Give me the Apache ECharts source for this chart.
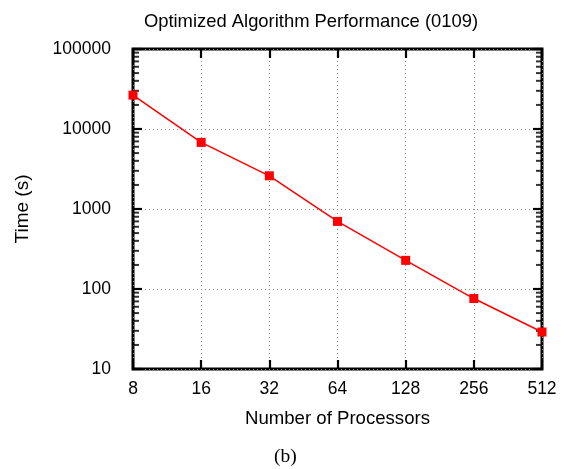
<!DOCTYPE html>
<html>
<head>
<meta charset="utf-8">
<script src="https://cdn.jsdelivr.net/npm/echarts@6/dist/echarts.min.js"></script>
<style>
  html, body { margin: 0; padding: 0; background: #fff; }
  #chart { width: 570px; height: 469px; }
</style>
</head>
<body>
<div id="chart"></div>
<script>
const processors = [8, 16, 32, 64, 128, 256, 512];
const times = [26500, 6800, 2600, 700, 228, 76, 29];
const decades = [10, 100, 1000, 10000];
const minorSteps = [2, 3, 4, 5, 6, 7, 8, 9];

// log minor tick values, drawn as small rect symbols on the left and right frame
const minorVals = [];
decades.forEach((d) => minorSteps.forEach((m) => minorVals.push(d * m)));

const font = '"Liberation Sans", Arial, sans-serif';
const chart = echarts.init(document.getElementById('chart'));

const splitLine = { show: true, lineStyle: { color: '#8a8a8a', type: [1, 3], width: 1 } };
const tick = { show: true, inside: true, length: 9, lineStyle: { color: '#000', width: 2.2 } };

chart.setOption({
  animation: false,
  title: {
    text: 'Optimized Algorithm Performance (0109)',
    left: 306, top: 8, textAlign: 'center',
    textStyle: { fontFamily: font, fontSize: 18.4, fontWeight: 'normal', color: '#000' },
  },
  graphic: [{
    type: 'text', left: 274, top: 447,
    style: { text: '(b)', fontFamily: '"Liberation Serif", "Times New Roman", serif', fontSize: 19.5, fill: '#000' },
  }],
  grid: { left: 133, right: 28, top: 49, bottom: 100, show: true, borderColor: '#000', borderWidth: 3, backgroundColor: '#fff' },
  xAxis: [
    {
      type: 'log', logBase: 2, min: 8, max: 512, interval: 1,
      name: 'Number of Processors', nameLocation: 'middle', nameGap: 40,
      nameTextStyle: { fontFamily: font, fontSize: 18.6, color: '#000' },
      axisLine: { show: false }, axisTick: tick, splitLine,
      axisLabel: { fontFamily: font, fontSize: 17.5, color: '#000', margin: 11, formatter: (v) => String(v) },
    },
    {
      type: 'log', logBase: 2, min: 8, max: 512, interval: 1, position: 'top',
      axisLine: { show: false }, axisTick: tick, splitLine: { show: false }, axisLabel: { show: false },
    },
  ],
  yAxis: [
    {
      type: 'log', logBase: 10, min: 10, max: 100000, interval: 1,
      name: 'Time (s)', nameLocation: 'middle', nameGap: 101, nameRotate: 90,
      nameTextStyle: { fontFamily: font, fontSize: 19, color: '#000' },
      axisLine: { show: false }, axisTick: tick, splitLine,
      axisLabel: { fontFamily: font, fontSize: 17.5, color: '#000', margin: 22, formatter: (v) => String(v) },
    },
    {
      type: 'log', logBase: 10, min: 10, max: 100000, interval: 1, position: 'right',
      axisLine: { show: false }, axisTick: tick, splitLine: { show: false }, axisLabel: { show: false },
    },
  ],
  series: [
    {
      type: 'scatter', silent: true, symbol: 'rect', symbolSize: [6, 2], symbolOffset: [3, 0],
      itemStyle: { color: '#000' }, z: 3,
      data: minorVals.map((v) => [8, v]),
    },
    {
      type: 'scatter', silent: true, symbol: 'rect', symbolSize: [6, 2], symbolOffset: [-3, 0],
      itemStyle: { color: '#000' }, z: 3,
      data: minorVals.map((v) => [512, v]),
    },
    {
      type: 'line', clip: false, z: 5,
      data: processors.map((p, i) => [p, times[i]]),
      symbol: 'rect', symbolSize: 9, showSymbol: true,
      lineStyle: { color: '#ff0000', width: 1.5 },
      itemStyle: { color: '#ff0000' },
    },
  ],
});
</script>
</body>
</html>
